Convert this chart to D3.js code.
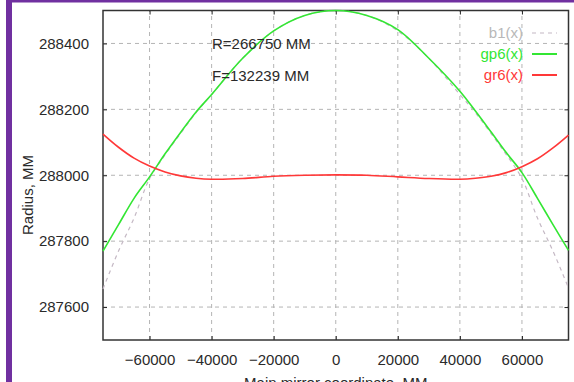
<!DOCTYPE html>
<html>
<head>
<meta charset="utf-8">
<script src="https://cdn.jsdelivr.net/npm/d3@7"></script>
<style>
  body { margin: 0; background: #fff; }
  svg { display: block; font-family: "Liberation Sans", Arial, sans-serif; }
  .tick-label { font-size: 15px; fill: #2a2a2a; }
  .grid line { stroke: #b4b4b4; stroke-dasharray: 4,4; stroke-width: 1; }
</style>
</head>
<body>
<svg id="chart" width="574" height="382"></svg>
<script>
// mirror coordinate samples, MM
var xs = [-75000, -70000, -65000, -60000, -55000, -50000, -45000, -40000, -30000, -20000, -10000, 0,
          10000, 20000, 30000, 40000, 45000, 50000, 55000, 60000, 65000, 70000, 75000];
// b1(x) - reference sphere
var b1 = [287655, 287770, 287870, 287990, 288062, 288127, 288190, 288245, 288355, 288438, 288485, 288500,
          288485, 288438, 288355, 288245, 288190, 288127, 288062, 287990, 287870, 287770, 287658];
// gp6(x)
var gp6 = [287770, 287850, 287930, 287995, 288065, 288130, 288192, 288245, 288355, 288438, 288485, 288500,
           288485, 288442, 288355, 288255, 288195, 288132, 288068, 288008, 287930, 287850, 287772];
// gr6(x)
var gr6 = [288125, 288085, 288052, 288028, 288010, 287998, 287991, 287988, 287990, 287997, 288000, 288001,
           288000, 287995, 287990, 287988, 287991, 287997, 288008, 288026, 288050, 288083, 288122];

var xTicks = [-60000, -40000, -20000, 0, 20000, 40000, 60000];
var yTicks = [287600, 287800, 288000, 288200, 288400];
var notes = ['R=266750 MM', 'F=132239 MM'];
var legendItems = [
  {name: 'b1(x)', color: '#c4b8c4', text: '#b8b8b8', dash: '4,4'},
  {name: 'gp6(x)', color: '#33e633', text: '#33e633', dash: null},
  {name: 'gr6(x)', color: '#ff3838', text: '#ff3838', dash: null}
];

(function () {
var svg = d3.select('#chart');
var W = +svg.attr('width');
var H = +svg.attr('height');

var pad = {t: 10, r: 4, b: 42, l: 103};
var plotW = W - pad.l - pad.r - 0.5;
var plotH = H - pad.t - pad.b;

var x = d3.scaleLinear().domain([-75000, 75000]).range([pad.l, pad.l + plotW - 1]);
var y = d3.scaleLinear().domain([287500, 288500]).range([pad.t + plotH, pad.t + 0.5]);

// frame pieces of the screenshot
svg.append('rect').attr('x', 6).attr('y', 0).attr('width', 6).attr('height', H).attr('fill', '#7030a0');
svg.append('rect').attr('x', 6).attr('y', 0).attr('width', W - 6).attr('height', 2.5).attr('fill', '#7030a0');

// grid
var grid = svg.append('g').attr('class', 'grid');
grid.selectAll('.gx').data(xTicks).enter().append('line')
  .attr('x1', function(d) { return x(d); }).attr('x2', function(d) { return x(d); })
  .attr('y1', y.range()[0]).attr('y2', y.range()[1]);
grid.selectAll('.gy').data(yTicks).enter().append('line')
  .attr('y1', function(d) { return y(d); }).attr('y2', function(d) { return y(d); })
  .attr('x1', x.range()[0]).attr('x2', x.range()[1]);

// axes, gnuplot style ticks pointing inward
var tickLen = 4;
svg.append('g').attr('transform', 'translate(0,' + y.range()[0] + ')')
  .call(d3.axisBottom(x).tickValues(xTicks).tickSize(-tickLen).tickPadding(14).tickFormat(d3.format('d')))
  .call(function(g) {
    g.select('.domain').remove();
    g.selectAll('text').attr('class', 'tick-label').attr('font-size', null).attr('font-family', null).attr('dy', '0.72em');
    g.selectAll('line').attr('stroke', '#222');
  });
svg.append('g').attr('transform', 'translate(0,' + y.range()[1] + ')')
  .call(d3.axisTop(x).tickValues(xTicks).tickSize(-tickLen).tickFormat(''))
  .call(function(g) { g.select('.domain').remove(); g.selectAll('line').attr('stroke', '#222'); });
svg.append('g').attr('transform', 'translate(' + x.range()[0] + ',0)')
  .call(d3.axisLeft(y).tickValues(yTicks).tickSize(-tickLen).tickPadding(14).tickFormat(d3.format('d')))
  .call(function(g) {
    g.select('.domain').remove();
    g.selectAll('text').attr('class', 'tick-label').attr('font-size', null).attr('font-family', null);
    g.selectAll('line').attr('stroke', '#222');
  });
svg.append('g').attr('transform', 'translate(' + x.range()[1] + ',0)')
  .call(d3.axisRight(y).tickValues(yTicks).tickSize(-tickLen).tickFormat(''))
  .call(function(g) { g.select('.domain').remove(); g.selectAll('line').attr('stroke', '#222'); });

// border
svg.append('rect')
  .attr('x', x.range()[0]).attr('y', y.range()[1])
  .attr('width', x.range()[1] - x.range()[0]).attr('height', y.range()[0] - y.range()[1])
  .attr('fill', 'none').attr('stroke', '#333').attr('stroke-width', 1.5);

// curves
var line = d3.line()
  .x(function(d) { return x(d[0]); })
  .y(function(d) { return y(d[1]); })
  .curve(d3.curveCatmullRom);

var series = [b1, gp6, gr6];
svg.append('g').selectAll('path').data(series).enter().append('path')
  .attr('d', function(s) { return line(xs.map(function(v, i) { return [v, s[i]]; })); })
  .attr('fill', 'none')
  .attr('stroke', function(d, i) { return legendItems[i].color; })
  .attr('stroke-width', function(d, i) { return i === 0 ? 1.2 : 1.6; })
  .attr('stroke-dasharray', function(d, i) { return legendItems[i].dash; });

// annotations
svg.append('g').selectAll('text').data(notes).enter().append('text')
  .attr('x', 212).attr('y', function(d, i) { return 49 + i * 32; })
  .attr('font-size', 15).attr('fill', '#2a2a2a')
  .text(function(d) { return d; });

// legend
var legend = svg.append('g').selectAll('g').data(legendItems).enter().append('g')
  .attr('transform', function(d, i) { return 'translate(0,' + (33 + i * 21) + ')'; });
legend.append('text')
  .attr('x', 523).attr('dy', '0.35em').attr('text-anchor', 'end')
  .attr('font-size', 15).attr('fill', function(d) { return d.text; })
  .text(function(d) { return d.name; });
legend.append('line')
  .attr('x1', 532).attr('x2', 557)
  .attr('stroke', function(d) { return d.color; })
  .attr('stroke-width', function(d, i) { return i === 0 ? 1.2 : 2; })
  .attr('stroke-dasharray', function(d) { return d.dash; });

// axis titles
svg.append('text')
  .attr('transform', 'translate(33,' + (pad.t + plotH / 2 + 20) + ') rotate(-90)')
  .attr('text-anchor', 'middle').attr('font-size', 15).attr('fill', '#2a2a2a')
  .text('Radius, MM');
svg.append('text')
  .attr('x', (x.range()[0] + x.range()[1]) / 2).attr('y', H + 6)
  .attr('text-anchor', 'middle').attr('font-size', 15).attr('fill', '#2a2a2a')
  .text('Main mirror coordinate, MM');
})();
</script>
</body>
</html>
